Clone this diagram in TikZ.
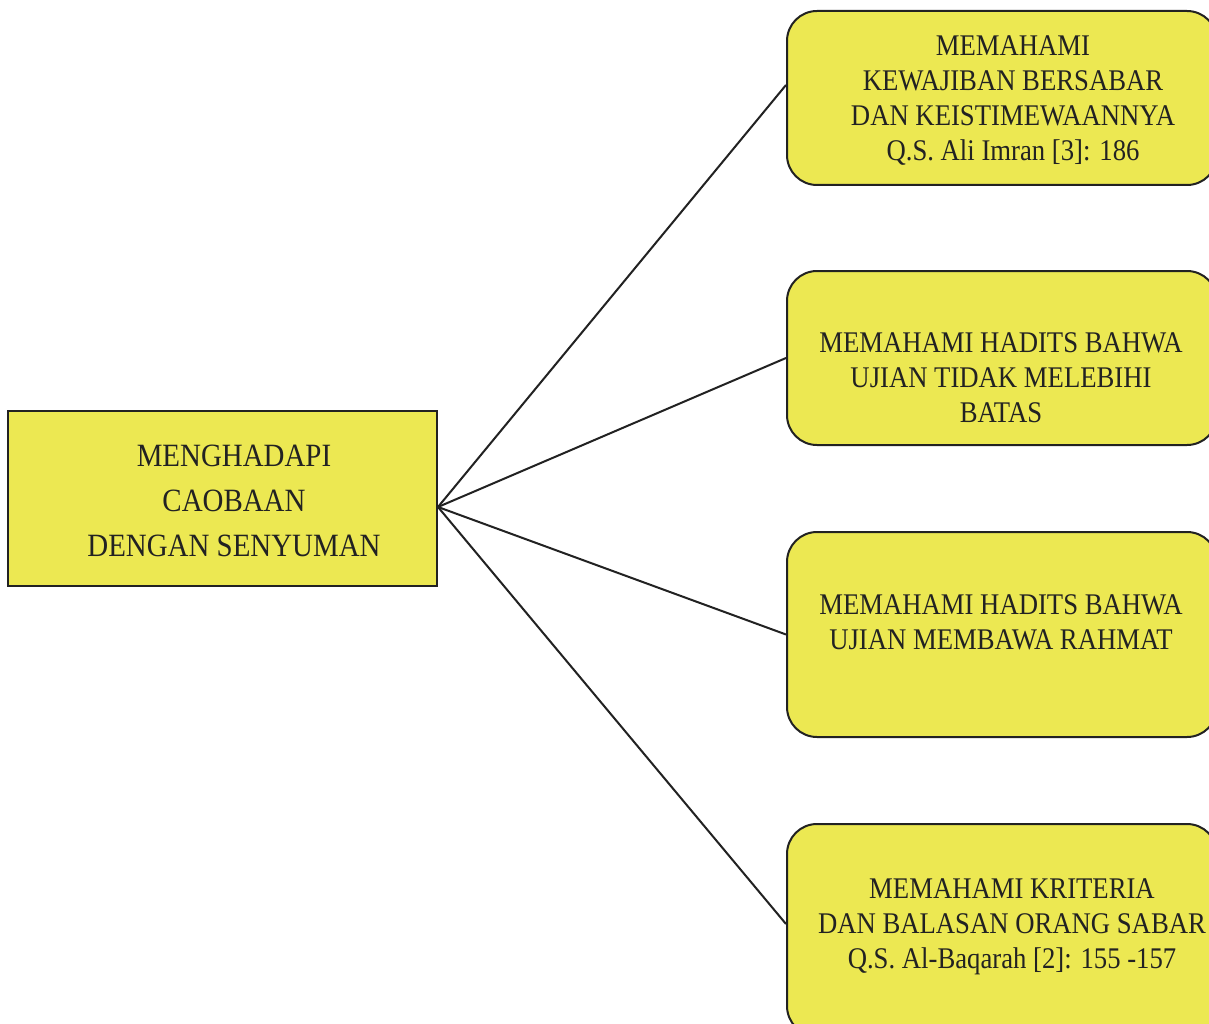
\documentclass[tikz,border=0pt]{standalone}
\usepackage{fontspec}
\setmainfont{Liberation Serif}[FakeStretch=0.89]
\definecolor{boxyellow}{HTML}{ECE852}
\definecolor{ink}{HTML}{222222}
\begin{document}
\begin{tikzpicture}[x=1pt,y=-1pt,
  leftbox/.style={draw=ink,line width=2pt,fill=boxyellow,rectangle,minimum width=429pt,minimum height=175pt,inner sep=0pt},
  rightbox/.style={draw=ink,line width=2pt,fill=boxyellow,rectangle,rounded corners=30pt,minimum width=430pt,inner sep=0pt},
  boxtext/.style={align=center,text=ink,inner sep=0pt},
  link/.style={draw=ink,line width=2pt}]
\clip (0,0) rectangle (1209,1024);
\fill[white] (0,0) rectangle (1209,1024);
% boxes
\node[leftbox] (root) at (222.5,498.5) {};
\node[rightbox,minimum height=174pt] (b1) at (1002,98) {};
\node[rightbox,minimum height=174pt] (b2) at (1002,358) {};
\node[rightbox,minimum height=205pt] (b3) at (1002,634.5) {};
\node[rightbox,minimum height=212pt] (b4) at (1002,930) {};
% texts
\node[boxtext,font=\fontsize{32.5}{45}\selectfont] (troot) at (234,501) {MENGHADAPI\\CAOBAAN\\DENGAN SENYUMAN};
\node[boxtext,font=\fontsize{30}{35}\selectfont] (t1) at (1013,101) {MEMAHAMI\\KEWAJIBAN BERSABAR\\DAN KEISTIMEWAANNYA\\Q.S. Ali Imran [3]: 186};
\node[boxtext,font=\fontsize{30}{35}\selectfont] (t2) at (1001,378) {MEMAHAMI HADITS BAHWA\\UJIAN TIDAK MELEBIHI\\BATAS};
\node[boxtext,font=\fontsize{30}{35}\selectfont] (t3) at (1001,622) {MEMAHAMI HADITS BAHWA\\UJIAN MEMBAWA RAHMAT};
\node[boxtext,font=\fontsize{30}{35}\selectfont] (t4) at (1012,927) {MEMAHAMI KRITERIA\\DAN BALASAN ORANG SABAR\\Q.S. Al-Baqarah [2]: 155 -157};
% connectors
\coordinate (hub) at ([yshift=-8.5pt]root.east);
\draw[link] (hub) -- (b1.west|-0,85);
\draw[link] (hub) -- (b2.west);
\draw[link] (hub) -- (b3.west);
\draw[link] (hub) -- (b4.west|-0,924);
\end{tikzpicture}
\end{document}
